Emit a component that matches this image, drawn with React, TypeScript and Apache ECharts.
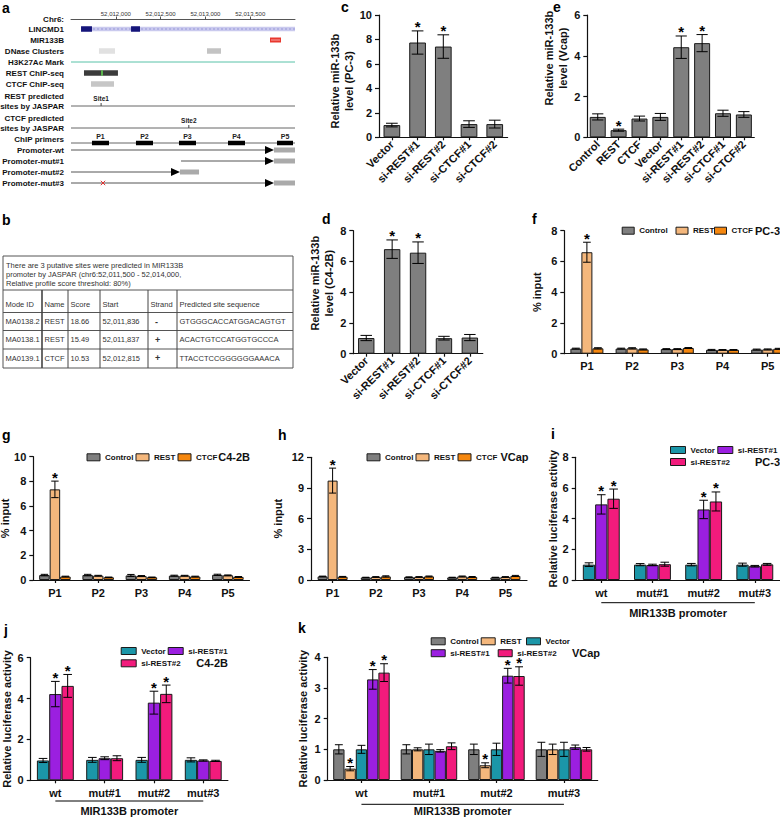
import React, { useEffect, useRef } from 'react';
import * as echarts from 'echarts';

const FONT = "'Liberation Sans', Arial, Helvetica, sans-serif";
const INK = '#111';

// ---------------- panel a : genome browser ----------------
const chrMin = 52011500;
const chrMax = 52014000;
const chrTickStep = 500;
const trackRows = ['LINCMD1', 'MIR133B', 'DNase Clusters', 'H3K27Ac Mark', 'REST ChIP-seq', 'CTCF ChIP-seq', ' ',
  'REST predicted\nsites by JASPAR', '  ', 'CTCF predicted\nsites by JASPAR', 'ChIP primers',
  'Promoter-wt', 'Promoter-mut#1', 'Promoter-mut#2', 'Promoter-mut#3'];
const lincmd1Span = [52011612, 52014000];
const lincmd1Exons = [[52011612, 52011734], [52012170, 52012270]];
const mir133bSpan = [[52013721, 52013844]];
const dnaseClusters = [[52011812, 52011991, 0.1], [52013018, 52013174, 0.3]];
const h3k27acSpan = [[52011500, 52014000]];
const restChipPeak = [[52011645, 52012024]];
const restChipSummit = [52011846];
const ctcfChipPeak = [[52011723, 52011980]];
const siteLabels = ['Site1', 'Site2'];
const sitePositions = [52011836, 52012815];
const siteTracks = ['REST predicted\nsites by JASPAR', 'CTCF predicted\nsites by JASPAR'];
const primerLabels = ['P1', 'P2', 'P3', 'P4', 'P5'];
const primerStarts = [52011734, 52012225, 52012705, 52013252, 52013799];
const primerEnds = [52011924, 52012415, 52012895, 52013442, 52013978];
const constructTracks = ['Promoter-wt', 'Promoter-mut#1', 'Promoter-mut#2', 'Promoter-mut#3'];
const constructFrom = [52011500, 52012728, 52011500, 52011500];
const constructTSS = [52013665, 52013665, 52012616, 52013665];
const constructEnd = [52014000, 52014000, 52012929, 52014000];
const mutationSite = [52011857];

// ---------------- panel b : table ----------------
const tableNote = ['There are 3 putative sites were predicted in MIR133B', 'promoter by JASPAR (chr6:52,011,500 - 52,014,000,', 'Relative profile score threshold: 80%)'];
const tableHeader = ['Mode ID', 'Name', 'Score', 'Start', 'Strand', 'Predicted site sequence'];
const tableRow1 = ['MA0138.2', 'REST', '18.66', '52,011,836', '-', 'GTGGGCACCATGGACAGTGT'];
const tableRow2 = ['MA0138.1', 'REST', '15.49', '52,011,837', '+', 'ACACTGTCCATGGTGCCCA'];
const tableRow3 = ['MA0139.1', 'CTCF', '10.53', '52,012,815', '+', 'TTACCTCCGGGGGGAAACA'];

// ---------------- c, d, e : miR-133b level ----------------
const knockdownCats = ['Vector', 'si-REST#1', 'si-REST#2', 'si-CTCF#1', 'si-CTCF#2'];
const pc3Level = [1.0, 7.75, 7.42, 1.08, 1.08];
const pc3LevelErr = [0.15, 0.95, 0.96, 0.27, 0.32];
const pc3LevelSig = [0, 1, 1, 0, 0];
const c42bLevel = [1.02, 6.8, 6.57, 1.01, 1.05];
const c42bLevelErr = [0.17, 0.6, 0.7, 0.12, 0.2];
const c42bLevelSig = [0, 1, 1, 0, 0];
const vcapCats = ['Control', 'REST', 'CTCF', 'Vector', 'si-REST#1', 'si-REST#2', 'si-CTCF#1', 'si-CTCF#2'];
const vcapLevel = [1.0, 0.35, 0.92, 1.0, 4.42, 4.62, 1.18, 1.12];
const vcapLevelErr = [0.15, 0.05, 0.12, 0.17, 0.55, 0.42, 0.15, 0.14];
const vcapLevelSig = [0, 1, 0, 0, 1, 1, 0, 0];

// ---------------- f, g, h : ChIP ----------------
const chipPrimers = ['P1', 'P2', 'P3', 'P4', 'P5'];
const noSig5 = [0, 0, 0, 0, 0];
const restSig5 = [1, 0, 0, 0, 0];
const pc3ChipControl = [0.33, 0.33, 0.30, 0.25, 0.27];
const pc3ChipControlErr = [0.03, 0.03, 0.03, 0.03, 0.03];
const pc3ChipREST = [6.6, 0.35, 0.30, 0.25, 0.28];
const pc3ChipRESTErr = [0.65, 0.04, 0.03, 0.02, 0.03];
const pc3ChipCTCF = [0.35, 0.28, 0.37, 0.25, 0.32];
const pc3ChipCTCFErr = [0.04, 0.03, 0.03, 0.02, 0.03];
const c42bChipControl = [0.40, 0.40, 0.37, 0.35, 0.42];
const c42bChipControlErr = [0.06, 0.06, 0.08, 0.04, 0.05];
const c42bChipREST = [7.35, 0.35, 0.32, 0.35, 0.38];
const c42bChipRESTErr = [0.67, 0.03, 0.04, 0.03, 0.03];
const c42bChipCTCF = [0.28, 0.22, 0.22, 0.28, 0.25];
const c42bChipCTCFErr = [0.03, 0.02, 0.02, 0.03, 0.03];
const vcapChipControl = [0.35, 0.25, 0.28, 0.25, 0.25];
const vcapChipControlErr = [0.03, 0.02, 0.03, 0.02, 0.02];
const vcapChipREST = [9.72, 0.30, 0.30, 0.35, 0.30];
const vcapChipRESTErr = [1.22, 0.03, 0.03, 0.04, 0.03];
const vcapChipCTCF = [0.32, 0.35, 0.35, 0.30, 0.40];
const vcapChipCTCFErr = [0.03, 0.06, 0.04, 0.04, 0.05];

// ---------------- i, j, k : luciferase ----------------
const promoterCats = ['wt', 'mut#1', 'mut#2', 'mut#3'];
const noSig4 = [0, 0, 0, 0];
const siSig4 = [1, 0, 1, 0];
const pc3LucVector = [1.0, 1.0, 1.0, 1.0];
const pc3LucVectorErr = [0.12, 0.07, 0.08, 0.1];
const pc3LucSi1 = [4.93, 0.98, 4.6, 0.9];
const pc3LucSi1Err = [0.63, 0.05, 0.6, 0.05];
const pc3LucSi2 = [5.3, 1.03, 5.12, 1.02];
const pc3LucSi2Err = [0.63, 0.13, 0.62, 0.06];
const c42bLucVector = [0.97, 1.0, 1.0, 1.0];
const c42bLucVectorErr = [0.1, 0.12, 0.12, 0.1];
const c42bLucSi1 = [4.22, 1.08, 3.8, 0.97];
const c42bLucSi1Err = [0.62, 0.07, 0.56, 0.03];
const c42bLucSi2 = [4.62, 1.08, 4.23, 0.95];
const c42bLucSi2Err = [0.56, 0.12, 0.43, 0.03];
const vcapLucControl = [1.0, 1.0, 1.0, 1.0];
const vcapLucControlErr = [0.15, 0.15, 0.17, 0.23];
const vcapLucREST = [0.37, 1.0, 0.48, 1.0];
const vcapLucRESTErr = [0.07, 0.05, 0.08, 0.17];
const vcapLucVector = [1.0, 1.0, 1.0, 1.0];
const vcapLucVectorErr = [0.13, 0.17, 0.2, 0.23];
const vcapLucSi1 = [3.28, 0.95, 3.4, 1.07];
const vcapLucSi1Err = [0.32, 0.04, 0.24, 0.07];
const vcapLucSi2 = [3.5, 1.1, 3.39, 1.0];
const vcapLucSi2Err = [0.29, 0.11, 0.3, 0.06];

const COL = { gray: '#7f7f7f', rest: '#f4b77c', ctcf: '#f5870f', vector: '#1b96a8', si1: '#9b1fe0', si2: '#f21b7c' };

type BarSpec = { name: string; color: string; vals: number[]; errs: number[]; sig: number[] };
type PanelSpec = {
  key: string; rect: number[]; cats: string[]; yMax: number; yStep: number;
  yName: string; nameGap: number; nameShift?: number; barWidth: number; bars: BarSpec[];
  rotate?: boolean; bracket?: number[];
};

const panels: PanelSpec[] = [
  { key: 'c', rect: [379, 15, 128.6, 122.3], cats: knockdownCats, yMax: 10, yStep: 2,
    yName: 'Relative miR-133b\nlevel (PC-3)', nameGap: 14, nameShift: 5, barWidth: 16.7, rotate: true,
    bars: [{ name: 'PC-3 level', color: COL.gray, vals: pc3Level, errs: pc3LevelErr, sig: pc3LevelSig }] },
  { key: 'd', rect: [353.3, 230.7, 129.5, 123], cats: knockdownCats, yMax: 8, yStep: 2,
    yName: 'Relative miR-133b\nlevel (C4-2B)', nameGap: 7, nameShift: -9, barWidth: 16.4, rotate: true,
    bars: [{ name: 'C4-2B level', color: COL.gray, vals: c42bLevel, errs: c42bLevelErr, sig: c42bLevelSig }] },
  { key: 'e', rect: [587.3, 15, 167, 122.3], cats: vcapCats, yMax: 6, yStep: 2,
    yName: 'Relative miR-133b\nlevel (Vcap)', nameGap: 9, nameShift: -18, barWidth: 16, rotate: true,
    bars: [{ name: 'Vcap level', color: COL.gray, vals: vcapLevel, errs: vcapLevelErr, sig: vcapLevelSig }] },
  { key: 'f', rect: [564.3, 230.7, 226, 123], cats: chipPrimers, yMax: 8, yStep: 2,
    yName: '% input', nameGap: 20, barWidth: 11,
    bars: [
      { name: 'Control', color: COL.gray, vals: pc3ChipControl, errs: pc3ChipControlErr, sig: noSig5 },
      { name: 'REST', color: COL.rest, vals: pc3ChipREST, errs: pc3ChipRESTErr, sig: restSig5 },
      { name: 'CTCF', color: COL.ctcf, vals: pc3ChipCTCF, errs: pc3ChipCTCFErr, sig: noSig5 }] },
  { key: 'g', rect: [33.3, 456.7, 216.2, 123.3], cats: chipPrimers, yMax: 10, yStep: 2,
    yName: '% input', nameGap: 20, barWidth: 10.5,
    bars: [
      { name: 'Control', color: COL.gray, vals: c42bChipControl, errs: c42bChipControlErr, sig: noSig5 },
      { name: 'REST', color: COL.rest, vals: c42bChipREST, errs: c42bChipRESTErr, sig: restSig5 },
      { name: 'CTCF', color: COL.ctcf, vals: c42bChipCTCF, errs: c42bChipCTCFErr, sig: noSig5 }] },
  { key: 'h', rect: [311, 457.3, 216, 122.7], cats: chipPrimers, yMax: 12, yStep: 3,
    yName: '% input', nameGap: 26, barWidth: 10,
    bars: [
      { name: 'Control', color: COL.gray, vals: vcapChipControl, errs: vcapChipControlErr, sig: noSig5 },
      { name: 'REST', color: COL.rest, vals: vcapChipREST, errs: vcapChipRESTErr, sig: restSig5 },
      { name: 'CTCF', color: COL.ctcf, vals: vcapChipCTCF, errs: vcapChipCTCFErr, sig: noSig5 }] },
  { key: 'i', rect: [575.7, 457.3, 204.7, 122.7], cats: promoterCats, yMax: 8, yStep: 2,
    yName: 'Relative luciferase activity', nameGap: 14, barWidth: 12.3, bracket: [22.7, 32.7],
    bars: [
      { name: 'Vector', color: COL.vector, vals: pc3LucVector, errs: pc3LucVectorErr, sig: noSig4 },
      { name: 'si-REST#1', color: COL.si1, vals: pc3LucSi1, errs: pc3LucSi1Err, sig: siSig4 },
      { name: 'si-REST#2', color: COL.si2, vals: pc3LucSi2, errs: pc3LucSi2Err, sig: siSig4 }] },
  { key: 'j', rect: [30.7, 657.7, 197.2, 122.6], cats: promoterCats, yMax: 6, yStep: 2,
    yName: 'Relative luciferase activity', nameGap: 17, barWidth: 12.3, bracket: [20.7, 30.7],
    bars: [
      { name: 'Vector', color: COL.vector, vals: c42bLucVector, errs: c42bLucVectorErr, sig: noSig4 },
      { name: 'si-REST#1', color: COL.si1, vals: c42bLucSi1, errs: c42bLucSi1Err, sig: siSig4 },
      { name: 'si-REST#2', color: COL.si2, vals: c42bLucSi2, errs: c42bLucSi2Err, sig: siSig4 }] },
  { key: 'k', rect: [327.7, 657.3, 270, 122.7], cats: promoterCats, yMax: 4, yStep: 1,
    yName: 'Relative luciferase activity', nameGap: 18, barWidth: 11.3, bracket: [24.3, 31],
    bars: [
      { name: 'Control', color: COL.gray, vals: vcapLucControl, errs: vcapLucControlErr, sig: noSig4 },
      { name: 'REST', color: COL.rest, vals: vcapLucREST, errs: vcapLucRESTErr, sig: siSig4 },
      { name: 'Vector', color: COL.vector, vals: vcapLucVector, errs: vcapLucVectorErr, sig: noSig4 },
      { name: 'si-REST#1', color: COL.si1, vals: vcapLucSi1, errs: vcapLucSi1Err, sig: siSig4 },
      { name: 'si-REST#2', color: COL.si2, vals: vcapLucSi2, errs: vcapLucSi2Err, sig: siSig4 }] },
];

// one legend entry per placed key
const legendItems = [
  { name: 'Control', left: 621.7, cy: 230.7, w: 12 }, { name: 'REST', left: 675.5, cy: 230.7, w: 12 }, { name: 'CTCF', left: 714, cy: 230.7, w: 12 },
  { name: 'Control', left: 86.5, cy: 457.3, w: 13 }, { name: 'REST', left: 135.5, cy: 457.3, w: 13 }, { name: 'CTCF', left: 177.5, cy: 457.3, w: 13 },
  { name: 'Control', left: 366.5, cy: 457.3, w: 13 }, { name: 'REST', left: 415.5, cy: 457.3, w: 13 }, { name: 'CTCF', left: 457.5, cy: 457.3, w: 13 },
  { name: 'Vector', left: 670, cy: 450, w: 15 }, { name: 'si-REST#1', left: 717.3, cy: 450, w: 15 }, { name: 'si-REST#2', left: 670, cy: 462, w: 15 },
  { name: 'Vector', left: 120.7, cy: 651, w: 15 }, { name: 'si-REST#1', left: 167.7, cy: 651, w: 15 }, { name: 'si-REST#2', left: 120.7, cy: 663.3, w: 15 },
  { name: 'Control', left: 430.7, cy: 641.3, w: 14 }, { name: 'REST', left: 480.7, cy: 641.3, w: 14 }, { name: 'Vector', left: 526, cy: 641.3, w: 14 },
  { name: 'si-REST#1', left: 430.7, cy: 653.2, w: 14 }, { name: 'si-REST#2', left: 497.7, cy: 653.2, w: 14 },
];

const cellLabels = [
  { text: 'PC-3', x: 780, y: 230.7 }, { text: 'C4-2B', x: 250, y: 457 }, { text: 'VCap', x: 528.5, y: 457 },
  { text: 'PC-3', x: 780, y: 462 }, { text: 'C4-2B', x: 228, y: 663.3 }, { text: 'VCap', x: 600, y: 653 },
];

const panelLetters = [
  { t: 'a', x: 2, y: 7.5 }, { t: 'b', x: 2, y: 220.2 }, { t: 'c', x: 341, y: 7 }, { t: 'd', x: 322, y: 219.2 },
  { t: 'e', x: 553, y: 7 }, { t: 'f', x: 532, y: 219.2 }, { t: 'g', x: 2, y: 434.5 }, { t: 'h', x: 278, y: 434.5 },
  { t: 'i', x: 551, y: 433.5 }, { t: 'j', x: 4, y: 630.2 }, { t: 'k', x: 298, y: 627.8 },
];

function txt(text: string, x: number, y: number, font: string, align = 'left', vAlign = 'middle', fill = INK, extra: any = {}) {
  return { type: 'text', style: { text, x, y, font, fill, align, textAlign: align, verticalAlign: vAlign, textVerticalAlign: vAlign, ...extra } };
}
function ln(x1: number, y1: number, x2: number, y2: number, stroke = '#000', lineWidth = 1) {
  return { type: 'line', shape: { x1, y1, x2, y2 }, style: { stroke, lineWidth } };
}

const errRender = (offset: number, cap: number) => (params: any, api: any) => {
  const ci = api.value(0), v = api.value(1), e = api.value(2), sg = api.value(3);
  const pt = api.coord([ci, v + e]);
  const pb = api.coord([ci, Math.max(v - e, 0)]);
  const x = pt[0] + offset;
  const children: any[] = [
    ln(x, pt[1], x, pb[1]), ln(x - cap / 2, pt[1], x + cap / 2, pt[1]), ln(x - cap / 2, pb[1], x + cap / 2, pb[1]),
  ];
  if (sg) children.push(txt('*', x, pt[1] - 4, `bold 15px ${FONT}`, 'center', 'middle', '#000', { lineHeight: 9 }));
  return { type: 'group', children };
};

const bracketRender = (dyLine: number, dyText: number) => (params: any, api: any) => {
  const p0 = api.coord([api.value(0), 0]);
  const p1 = api.coord([api.value(2), 0]);
  const y = p0[1] + dyLine;
  return { type: 'group', children: [
    ln(p0[0], y, p1[0], y, '#000', 1),
    txt('MIR133B promoter', (p0[0] + p1[0]) / 2, p0[1] + dyText, `bold 11px ${FONT}`, 'center', 'middle', INK),
  ] };
};

// track kinds
const K = { BAND: 0, EXON: 1, MIR: 2, DNASE: 3, MARK: 4, RESTPEAK: 5, SUMMIT: 6, CTCFPEAK: 7, BASE: 8, SITE: 9, PRIMER: 10, CONSTRUCT: 11, MUT: 12 };

function buildTrackData() {
  const r = (name: string) => trackRows.indexOf(name);
  const d: number[][] = [];
  d.push([lincmd1Span[0], r('LINCMD1'), lincmd1Span[1], K.BAND, 0]);
  lincmd1Exons.forEach(([s, e]) => d.push([s, r('LINCMD1'), e, K.EXON, 0]));
  mir133bSpan.forEach(([s, e]) => d.push([s, r('MIR133B'), e, K.MIR, 0]));
  dnaseClusters.forEach(([s, e, sc]) => d.push([s, r('DNase Clusters'), e, K.DNASE, sc]));
  h3k27acSpan.forEach(([s, e]) => d.push([s, r('H3K27Ac Mark'), e, K.MARK, 0]));
  restChipPeak.forEach(([s, e]) => d.push([s, r('REST ChIP-seq'), e, K.RESTPEAK, 0]));
  restChipSummit.forEach((p) => d.push([p, r('REST ChIP-seq'), p, K.SUMMIT, 0]));
  ctcfChipPeak.forEach(([s, e]) => d.push([s, r('CTCF ChIP-seq'), e, K.CTCFPEAK, 0]));
  siteTracks.forEach((t) => d.push([chrMin, r(t), chrMax, K.BASE, 0]));
  d.push([chrMin, r('ChIP primers'), chrMax, K.BASE, 4]);
  sitePositions.forEach((p, i) => d.push([p, r(siteTracks[i]), p, K.SITE, i]));
  primerStarts.forEach((s, i) => d.push([s, r('ChIP primers'), primerEnds[i], K.PRIMER, i]));
  constructTracks.forEach((t, i) => d.push([constructFrom[i], r(t), constructEnd[i], K.CONSTRUCT, constructTSS[i]]));
  mutationSite.forEach((p) => d.push([p, r('Promoter-mut#3'), p, K.MUT, 0]));
  return d;
}

const trackRender = (params: any, api: any) => {
  const s = api.value(0), row = api.value(1), e = api.value(2), kind = api.value(3), extra = api.value(4);
  const p0 = api.coord([s, row]);
  const x0 = p0[0], y = p0[1];
  const x1 = api.coord([e, row])[0];
  const w = Math.max(x1 - x0, 1);
  const box = (h: number, fill: string, dy = 0) => ({ type: 'rect', shape: { x: x0, y: y + dy - h / 2, width: w, height: h }, style: { fill } });
  switch (kind) {
    case K.BAND:
      return { type: 'group', children: [box(4.5, '#cacaee'),
        { type: 'line', shape: { x1: x0, y1: y, x2: x1, y2: y }, style: { stroke: '#8c8cd4', lineWidth: 0.8, lineDash: [2, 2] } }] };
    case K.EXON: return box(5.5, '#15157a');
    case K.MIR:
      return { type: 'group', children: [box(5, '#e8382e'), ln(x0 + 1, y, x1 - 1, y, '#f7a4a4', 1)] };
    case K.DNASE: { const g = Math.round(240 - extra * 150); return box(5.5, `rgb(${g},${g},${g})`); }
    case K.MARK: return ln(x0, y, x1, y, '#58c2a8', 1);
    case K.RESTPEAK: return box(5.5, '#3b3b3b');
    case K.SUMMIT: return { type: 'rect', shape: { x: x0 - 0.75, y: y - 2.75, width: 1.5, height: 5.5 }, style: { fill: '#66dd55' } };
    case K.CTCFPEAK: return box(5.5, '#c6c6c6');
    case K.BASE: return ln(x0, y + extra, x1, y + extra, '#666', 1);
    case K.SITE:
      return { type: 'group', children: [ln(x0, y - 3, x0, y, '#444', 1),
        txt(siteLabels[extra], x0, y - 8, `bold 6.5px ${FONT}`, 'center', 'middle', '#222')] };
    case K.PRIMER:
      return { type: 'group', children: [box(4.5, '#000', 4),
        txt(primerLabels[extra], (x0 + x1) / 2, y - 2.5, `bold 7px ${FONT}`, 'center', 'middle', '#222')] };
    case K.CONSTRUCT: {
      const tx = api.coord([extra, row])[0];
      return { type: 'group', children: [
        ln(x0, y, tx, y, '#555', 1),
        { type: 'polygon', shape: { points: [[tx, y - 4], [tx + 9, y], [tx, y + 4]] }, style: { fill: '#000' } },
        { type: 'rect', shape: { x: tx + 9, y: y - 2.5, width: x1 - tx - 9, height: 5 }, style: { fill: '#aaaaaa' } },
      ] };
    }
    case K.MUT:
      return { type: 'group', children: [ln(x0 - 2.2, y - 2.2, x0 + 2.2, y + 2.2, '#e03030', 1), ln(x0 - 2.2, y + 2.2, x0 + 2.2, y - 2.2, '#e03030', 1)] };
  }
  return null;
};

function buildOption() {
  const grid: any[] = [];
  const xAxis: any[] = [];
  const yAxis: any[] = [];
  const series: any[] = [];
  const graphic: any[] = [];
  const lbl = { fontSize: 11, fontWeight: 'bold', color: INK, fontFamily: FONT };
  const axisStroke = { color: INK, width: 1.2 };

  // panel a grid
  grid.push({ left: 71, top: 23.5, width: 224, height: 165, outerBoundsMode: 'none', containLabel: false });
  xAxis.push({
    gridIndex: 0, type: 'value', position: 'top', offset: 4, min: chrMin, max: chrMax, interval: chrTickStep,
    axisLine: { show: true, lineStyle: { color: '#555', width: 1 } },
    axisTick: { show: true, length: 3, lineStyle: { color: '#555', width: 1 } },
    axisLabel: { show: true, fontSize: 6, color: '#333', margin: 3, fontFamily: FONT, showMinLabel: false, showMaxLabel: false,
      formatter: (v: number) => v.toLocaleString('en-US') },
    splitLine: { show: false },
    name: 'Chr6:', nameLocation: 'start', nameGap: 7,
    nameTextStyle: { fontSize: 8, fontWeight: 'bold', color: INK, fontFamily: FONT },
  });
  yAxis.push({
    gridIndex: 0, type: 'category', inverse: true, data: trackRows,
    axisLine: { show: false }, axisTick: { show: false }, splitLine: { show: false },
    axisLabel: { interval: 0, fontSize: 8, fontWeight: 'bold', color: INK, fontFamily: FONT, margin: 7, lineHeight: 9.5,
      formatter: (v: string) => (v.indexOf('\n') >= 0 ? v + '\n' : v) },
  });
  series.push({ type: 'custom', name: 'tracks', xAxisIndex: 0, yAxisIndex: 0, silent: true, clip: false,
    data: buildTrackData(), encode: { x: [0, 2], y: 1 }, renderItem: trackRender });

  // bar panels
  panels.forEach((p, idx) => {
    const gi = idx + 1;
    grid.push({ left: p.rect[0], top: p.rect[1], width: p.rect[2], height: p.rect[3], outerBoundsMode: 'none', containLabel: false });
    xAxis.push({
      gridIndex: gi, type: 'category', data: p.cats,
      axisLine: { show: true, onZero: false, lineStyle: axisStroke },
      axisTick: { show: true, alignWithLabel: true, length: 3, lineStyle: axisStroke },
      axisLabel: { ...lbl, interval: 0, rotate: p.rotate ? 45 : 0, margin: p.rotate ? 5 : 7 },
      splitLine: { show: false },
    });
    const sh = p.nameShift || 0;
    const twoLine = p.yName.indexOf('\n') >= 0;
    yAxis.push({
      gridIndex: gi, type: 'value', min: 0, max: p.yMax, interval: p.yStep,
      axisLine: { show: true, lineStyle: axisStroke },
      axisTick: { show: true, length: 4, lineStyle: axisStroke },
      axisLabel: { ...lbl, margin: 7 },
      splitLine: { show: false },
      name: p.yName, nameLocation: 'middle', nameRotate: 90, nameGap: twoLine ? p.nameGap : p.nameGap + 1.5,
      nameTextStyle: { ...lbl, lineHeight: twoLine ? 14 : 11, padding: sh > 0 ? [0, 2 * sh, 0, 0] : [0, 0, 0, -2 * sh] },
    });
    const n = p.bars.length;
    p.bars.forEach((b) => {
      series.push({ type: 'bar', name: b.name, xAxisIndex: gi, yAxisIndex: gi, data: b.vals, barWidth: p.barWidth, barGap: '0%',
        silent: true, itemStyle: { color: b.color, borderColor: '#1a1a1a', borderWidth: 1 } });
    });
    p.bars.forEach((b, si) => {
      const offset = (si - (n - 1) / 2) * p.barWidth;
      series.push({ type: 'custom', name: `${p.key}-err-${si}`, xAxisIndex: gi, yAxisIndex: gi, z: 5, silent: true, clip: false,
        data: b.vals.map((v, i) => [i, v, b.errs[i], b.sig[i]]), encode: { x: 0, y: 1 },
        renderItem: errRender(offset, p.barWidth * 0.7) });
    });
    if (p.bracket) {
      series.push({ type: 'custom', name: `${p.key}-bracket`, xAxisIndex: gi, yAxisIndex: gi, z: 5, silent: true, clip: false,
        data: [[0, 0, p.cats.length - 1]], encode: { x: 0, y: 1 }, renderItem: bracketRender(p.bracket[0], p.bracket[1]) });
    }
  });

  // table b
  const tL = 3, tR = 293, tT = 256, tB = 368, headLine = 290;
  const rowLines = [312.5, 330.5, 349];
  const colX = [3, 42, 68, 100, 148, 177];
  const noteY = [265.7, 274.7, 283.7];
  const rowY = [304, 321.7, 339.5, 358];
  const tFont = `7.5px ${FONT}`;
  graphic.push({ type: 'rect', shape: { x: tL, y: tT, width: tR - tL, height: tB - tT }, style: { fill: 'none', stroke: '#555', lineWidth: 1 } });
  graphic.push(ln(tL, headLine, tR, headLine, '#555', 1));
  rowLines.forEach((y) => graphic.push(ln(tL, y, tR, y, '#555', 1)));
  colX.slice(1).forEach((x, i) => graphic.push(ln(x, headLine, x, tB, '#444', i === 0 ? 1.6 : 1)));
  tableNote.forEach((t, i) => graphic.push(txt(t, tL + 3, noteY[i], tFont, 'left', 'middle', '#333')));
  [tableHeader, tableRow1, tableRow2, tableRow3].forEach((row, ri) => {
    row.forEach((cell, ci) => {
      const isStrand = ri > 0 && ci === 4;
      graphic.push(txt(cell, colX[ci] + (isStrand ? 7 : 2.5), rowY[ri], isStrand ? `bold 9px ${FONT}` : tFont, 'left', 'middle', '#333'));
    });
  });

  panelLetters.forEach((p) => graphic.push(txt(p.t, p.x, p.y, `bold 14px ${FONT}`, 'left', 'middle', '#000')));
  cellLabels.forEach((c) => graphic.push(txt(c.text, c.x, c.y, `bold 11px ${FONT}`, 'right', 'middle', INK)));

  const legend = legendItems.map((l) => ({
    data: [l.name], left: l.left, top: l.cy - 4.5, orient: 'horizontal', icon: 'rect', itemWidth: l.w, itemHeight: 7, itemGap: 0,
    padding: 0, selectedMode: false,
    itemStyle: { borderColor: '#1a1a1a', borderWidth: 1 },
    textStyle: { fontSize: 8, fontWeight: 'bold', color: INK, fontFamily: FONT, lineHeight: 9 },
  }));

  return {
    animation: false, backgroundColor: '#fff', textStyle: { fontFamily: FONT },
    grid, xAxis, yAxis, series, legend, graphic: { elements: graphic },
  };
}

export default function App() {
  const ref = useRef<HTMLDivElement>(null);
  useEffect(() => {
    if (!ref.current) return;
    const chart = echarts.init(ref.current, undefined, { renderer: 'svg', width: 780, height: 819 });
    chart.setOption(buildOption() as any);
    return () => chart.dispose();
  }, []);
  return <div ref={ref} style={{ position: 'absolute', left: 0, top: 0, width: 780, height: 819, background: '#fff' }} />;
}
